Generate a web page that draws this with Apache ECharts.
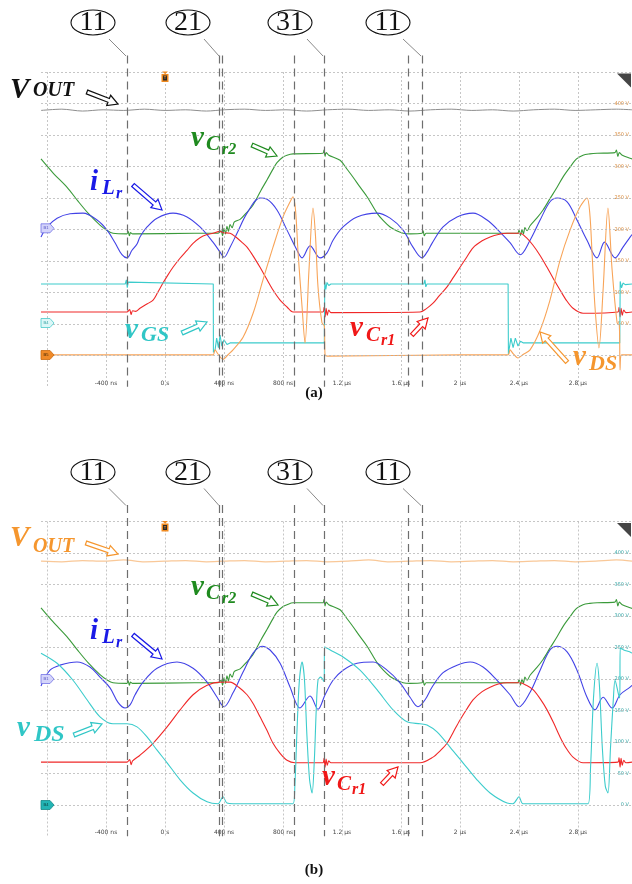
<!DOCTYPE html>
<html><head><meta charset="utf-8">
<script src="https://cdn.jsdelivr.net/npm/echarts@6/dist/echarts.min.js"></script>
<style>html,body{margin:0;padding:0;background:#fff}#c{width:632px;height:884px}</style>
</head><body><div id="c"></div><script>
// ---------- axis / tick data ----------
const tickValues = [-400, 0, 400, 800, 1200, 1600, 2000, 2400, 2800];
const tickLabels = ['-400 ns', '0 s', '400 ns', '800 ns', '1.2 µs', '1.6 µs', '2 µs', '2.4 µs', '2.8 µs'];
const gridTimes = [-800, -400, 0, 400, 800, 1200, 1600, 2000, 2400, 2800];
const gridVolts = [0, 50, 100, 150, 200, 250, 300, 350, 400, 450];
const voltLabelsA = [50, 100, 150, 200, 250, 300, 350, 400];
const voltLabelsB = [0, 50, 100, 150, 200, 250, 300, 350, 400];
const cursorTimes = [-258, 366, 386, 875, 1078, 1648, 1742];
const stateLabels = ['11', '21', '31', '11'];

// ---------- panel (a) traces: [time ns, value] ----------
const voutA = [[-841,389],[-700,391],[-560,388],[-420,390],[-280,389],[-140,391],[0,389],[140,390],[280,388],[400,390],[540,391],[680,389],[820,390],[960,388],[1100,390],[1240,391],[1380,389],[1520,390],[1660,388],[1800,390],[1940,391],[2080,389],[2220,390],[2360,388],[2500,390],[2640,391],[2780,389],[2920,390],[3060,391],[3166,390]];
const vCr2A = [[-841,312],[-760,290],[-664,267],[-590,245],[-522,226],[-441,207],[-390,198],[-353,194],[-258,193],[-250,197],[-242,190],[-234,195],[-220,193],[200,194],[360,194],[380,198],[390,190],[400,202],[410,193],[420,205],[430,197],[441,208],[455,203],[470,212],[509,216],[550,226],[597,239],[650,262],[692,279],[730,295],[759,306],[800,315],[827,318],[868,320],[1070,321],[1078,326],[1085,316],[1092,322],[1110,318],[1187,310],[1230,297],[1275,283],[1320,268],[1370,252],[1437,226],[1480,214],[1526,204],[1570,198],[1614,194],[1661,193],[1742,194],[1750,198],[1758,190],[1770,194],[2390,194],[2400,199],[2410,190],[2420,200],[2430,193],[2440,203],[2455,198],[2475,206],[2520,218],[2563,231],[2610,249],[2658,267],[2700,284],[2746,299],[2790,312],[2834,318],[2880,320],[2929,321],[3050,322],[3060,326],[3070,316],[3080,322],[3100,318],[3153,313],[3166,312]];
const vCr1A = [[-841,69],[-258,69],[-240,73],[-230,65],[-220,71],[-200,70],[-170,75],[-120,82],[-81,88],[-50,100],[-14,115],[20,128],[54,140],[100,154],[149,167],[190,178],[237,187],[285,192],[325,194],[373,197],[393,195],[441,194],[480,188],[520,180],[556,172],[600,157],[644,140],[690,121],[732,104],[780,88],[827,77],[868,69],[1070,69],[1078,76],[1085,61],[1092,75],[1100,64],[1110,72],[1125,68],[1729,69],[1770,74],[1817,83],[1860,95],[1912,109],[1955,124],[2000,140],[2045,156],[2088,171],[2150,182],[2204,188],[2260,192],[2319,194],[2407,194],[2450,187],[2495,175],[2545,158],[2590,140],[2635,121],[2678,104],[2720,88],[2766,75],[2834,67],[3070,69],[3078,76],[3085,61],[3092,75],[3100,64],[3110,72],[3125,68],[3166,69]];
const iLrA = [[-841,-1.2],[-800,0.4],[-732,1.8],[-644,2.5],[-556,2.6],[-461,1.5],[-393,-0.1],[-339,-2.1],[-292,-4.0],[-258,-4.5],[-224,-3.3],[-190,-2.3],[-170,-1.2],[-122,0.4],[-54,1.8],[54,2.6],[149,2.0],[237,0.4],[325,-2.0],[373,-3.6],[400,-4.4],[441,-2.8],[488,-0.6],[556,2.6],[644,5.0],[692,4.8],[759,3.1],[827,-0.1],[895,-3.3],[929,-4.5],[983,-2.6],[1051,-4.5],[1098,-3.7],[1139,-1.7],[1207,0.4],[1302,2.0],[1437,2.6],[1526,1.8],[1614,-0.1],[1681,-2.8],[1742,-4.5],[1776,-3.6],[1810,-2.2],[1885,0.4],[1980,2.0],[2088,2.6],[2183,1.5],[2271,-0.4],[2339,-2.1],[2407,-4.0],[2475,-1.7],[2543,1.5],[2610,4.4],[2658,5.0],[2726,4.4],[2793,1.5],[2861,-1.7],[2929,-4.5],[2980,-2.0],[3051,-4.5],[3105,-2.8],[3153,-1.2],[3166,-0.8]];
const vGSA = [[-841,12.7],[-270,12.7],[-262,14.0],[-256,11.5],[-250,13.3],[-240,12.7],[327,12.7],[328,-9.0],[339,-8.3],[350,-4.5],[362,-7.5],[373,-3.5],[385,-7.0],[400,-5.0],[420,-6.5],[441,-6.0],[1080,-6.0],[1083,13.5],[1090,11.0],[1098,13.2],[1110,12.2],[1125,12.7],[1755,12.7],[1762,14.0],[1768,11.8],[1776,12.7],[2326,12.7],[2328,-9.5],[2345,-4.5],[2360,-7.5],[2375,-4.5],[2393,-7.0],[2410,-5.5],[2430,-6.0],[3083,-6.0],[3086,13.5],[3095,11.5],[3105,13.0],[3120,12.5],[3166,12.7]];
const vDSA = [[-841,1],[0,1],[325,1],[339,9],[360,2],[393,-6],[430,2],[461,9],[529,29],[597,67],[664,120],[732,172],[800,220],[848,244],[868,252],[885,230],[902,163],[929,77],[949,20],[976,136],[1003,234],[1020,190],[1037,109],[1064,52],[1080,47],[1085,1],[1100,-1],[2000,1],[2326,1],[2339,9],[2360,3],[2393,-4],[2430,2],[2475,9],[2543,40],[2610,88],[2678,151],[2746,199],[2814,236],[2861,250],[2880,225],[2895,163],[2915,77],[2942,12],[2970,104],[3003,234],[3031,136],[3065,52],[3080,48],[3085,-23],[3095,1],[3166,1]];

// ---------- panel (b) traces ----------
const voutB = [[-841,387],[-700,386],[-560,388],[-420,387],[-280,389],[-140,386],[0,387],[140,388],[280,386],[400,387],[540,388],[680,386],[820,387],[960,388],[1100,386],[1240,387],[1380,389],[1520,386],[1660,387],[1800,388],[1940,386],[2080,387],[2220,388],[2360,386],[2500,387],[2640,388],[2780,386],[2920,387],[3060,389],[3166,387]];
const vCr2B = [[-841,313],[-760,291],[-664,267],[-590,245],[-522,226],[-441,207],[-390,198],[-353,194],[-258,193],[-250,197],[-242,190],[-234,195],[-220,193],[200,194],[360,194],[380,198],[390,190],[400,202],[410,193],[420,205],[430,197],[441,208],[455,203],[470,212],[509,216],[550,226],[597,239],[650,262],[692,279],[730,295],[759,306],[800,315],[827,318],[868,321],[1070,321],[1078,326],[1085,316],[1092,322],[1110,318],[1187,310],[1230,297],[1275,283],[1320,268],[1370,252],[1437,226],[1480,214],[1526,204],[1570,198],[1614,194],[1661,193],[1742,194],[1750,198],[1758,190],[1770,194],[2390,194],[2400,199],[2410,190],[2420,200],[2430,193],[2440,203],[2455,198],[2475,206],[2520,218],[2563,231],[2610,249],[2658,267],[2700,284],[2746,299],[2790,312],[2834,318],[2880,320],[2929,321],[3050,322],[3060,326],[3070,316],[3080,322],[3100,318],[3153,313],[3166,312]];
const vCr1B = [[-841,68],[-258,68],[-240,72],[-230,64],[-220,70],[-170,79],[-81,98],[14,124],[102,151],[190,175],[285,190],[373,195],[441,195],[500,187],[556,175],[600,160],[644,140],[690,119],[732,98],[780,82],[827,71],[881,67],[1070,67],[1078,74],[1085,60],[1092,73],[1100,63],[1110,70],[1125,67],[1729,67],[1817,76],[1865,86],[1912,98],[1955,116],[2000,135],[2045,152],[2088,167],[2150,180],[2204,187],[2260,192],[2319,194],[2407,194],[2450,190],[2495,183],[2545,168],[2590,151],[2635,130],[2678,108],[2720,90],[2766,76],[2834,67],[3070,68],[3078,75],[3085,60],[3092,74],[3100,63],[3110,71],[3125,67],[3166,68]];
const iLrB = [[-841,-1.1],[-780,1.4],[-712,2.2],[-597,2.7],[-509,1.9],[-441,0.3],[-373,-1.4],[-319,-3.7],[-271,-4.6],[-237,-4.1],[-203,-2.5],[-149,-0.5],[-54,1.7],[81,2.7],[190,1.7],[285,-0.5],[353,-2.9],[400,-4.4],[461,-2.2],[529,1.1],[597,4.1],[658,5.2],[712,4.6],[780,2.5],[848,-1.3],[915,-4.6],[983,-2.7],[1037,-4.8],[1085,-2.5],[1139,-0.2],[1207,1.4],[1302,2.5],[1410,2.7],[1505,1.4],[1593,-0.6],[1661,-2.9],[1715,-4.4],[1763,-3.3],[1810,-1.3],[1885,1.0],[1980,2.2],[2068,2.7],[2156,1.9],[2251,-0.2],[2339,-2.5],[2400,-4.4],[2475,-2.1],[2543,1.4],[2610,4.6],[2658,5.2],[2726,4.3],[2793,1.4],[2861,-2.9],[2915,-4.9],[2970,-2.9],[3031,-4.6],[3085,-2.5],[3153,-1.3],[3166,-1.0]];
const vDSB = [[-841,241],[-732,225],[-624,198],[-529,167],[-441,140],[-353,129],[-258,129],[-190,124],[-122,108],[-54,87],[14,67],[102,40],[190,19],[285,5],[359,2],[393,13],[420,3],[461,2],[868,2],[880,30],[895,120],[910,195],[929,227],[945,200],[962,110],[980,40],[997,19],[1012,70],[1025,150],[1037,198],[1055,203],[1078,196],[1082,251],[1120,246],[1207,235],[1322,214],[1437,183],[1546,151],[1641,132],[1729,129],[1776,127],[1844,116],[1932,92],[2020,67],[2115,40],[2204,19],[2319,3],[2359,2],[2400,13],[2427,2],[2868,2],[2885,60],[2905,170],[2929,225],[2945,190],[2965,90],[2985,30],[3003,19],[3020,90],[3040,170],[3051,198],[3075,175],[3083,170],[3086,249],[3110,246],[3153,243],[3166,241]];

// ---------- styling helpers ----------
const SERIF = '"Liberation Serif", "DejaVu Serif", serif';
const C = {green:'#3a9a3a', red:'#f02828', blue:'#4242e6', cyan:'#3ccccc', orange:'#f8a458', gray:'#8e8e8e', voutB:'#f9c898'};

function trace(data, xi, yi, color, smooth, width) {
  return {type:'line', data, xAxisIndex:xi, yAxisIndex:yi, showSymbol:false, symbol:'none',
    smooth: smooth, lineStyle:{color, width: width || 1.1}, itemStyle:{color}, z:3, silent:true};
}
function gridLines(xi, yi) {
  const d = [];
  gridVolts.forEach(v => d.push({yAxis:v, lineStyle:{type:[2,2], color:'#b8b8b8', width:0.8}}));
  gridTimes.forEach(t => d.push([{coord:[t,450], lineStyle:{type:[2,2], color:'#b8b8b8', width:0.8}}, {coord:[t,-49.5]}]));
  cursorTimes.forEach(t => d.push([{coord:[t,476], lineStyle:{type:[8,5], color:'#6e6e6e', width:1.2}}, {coord:[t,-49.5]}]));
  return {type:'line', data:[], xAxisIndex:xi, yAxisIndex:yi, z:1, silent:true,
    markLine:{silent:true, symbol:['none','none'], label:{show:false}, animation:false, data:d}};
}
function xAx(gi) {
  return {type:'value', gridIndex:gi, min:-841, max:3166, splitLine:{show:false}, axisLine:{show:false}, axisTick:{show:false},
    axisLabel:{customValues:tickValues, fontSize:6, color:'#444', margin:-7, fontFamily:'DejaVu Sans',
      formatter: v => { const i = tickValues.indexOf(v); return i >= 0 ? tickLabels[i] : ''; }}};
}
function yAx(gi, labels, color) {
  return {type:'value', gridIndex:gi, min:-50, max:500, interval:50, position:'right',
    splitLine:{show:false}, axisLine:{show:false}, axisTick:{show:false},
    axisLabel:{inside:true, margin:3, fontSize:5, color, fontFamily:'DejaVu Sans',
      formatter: v => labels.indexOf(v) >= 0 ? v + ' V' : ''}};
}

// ---------- annotation graphics ----------
const G = [];
function arrow(x1,y1,x2,y2,color){
  const dx=x2-x1, dy=y2-y1, len=Math.hypot(dx,dy), ux=dx/len, uy=dy/len, nx=-uy, ny=ux;
  const w=2.0, H=5.5, L=10, bx=x2-ux*L, by=y2-uy*L;
  G.push({type:'polygon', z:100, shape:{points:[[x1+nx*w,y1+ny*w],[bx+nx*w,by+ny*w],[bx+nx*H,by+ny*H],[x2,y2],[bx-nx*H,by-ny*H],[bx-nx*w,by-ny*w],[x1-nx*w,y1-ny*w]]},
    style:{fill:'#fff', stroke:color, lineWidth:1.2}});
}
function lab(parts, color){
  parts.forEach(p => G.push({type:'text', z:101, x:p[1], y:p[2]-0.34*p[3],
    style:{text:p[0], font:'italic bold '+p[3]+'px '+SERIF, fill:color, align:'left', verticalAlign:'middle'}}));
}
function circled(cx, cy, t){
  G.push({type:'ellipse', z:100, shape:{cx, cy, rx:22, ry:12.5}, style:{fill:'#fff', stroke:'#111', lineWidth:1.1}});
  G.push({type:'text', z:101, x:cx, y:cy+0.5, style:{text:t, font:'28px '+SERIF, fill:'#111', align:'center', verticalAlign:'middle'}});
}
function tag(y, txt, fill, stroke, tcol){
  G.push({type:'polygon', z:90, shape:{points:[[41,y-4.5],[50,y-4.5],[54,y],[50,y+4.5],[41,y+4.5]]}, style:{fill, stroke, lineWidth:0.8}});
  G.push({type:'text', z:91, x:46, y:y, style:{text:txt, font:'4px sans-serif', fill:tcol, align:'center', verticalAlign:'middle'}});
}
function panelDecor(dy){
  const cx = [93,188,290,388], lead = [[109,126],[204,219],[307,323],[403,421]];
  cx.forEach((x,i) => circled(x, 22.5+dy, stateLabels[i]));
  lead.forEach(l => G.push({type:'line', z:99, shape:{x1:l[0], y1:39+dy, x2:l[1], y2:56+dy}, style:{stroke:'#8a8a8a', lineWidth:1}}));
  // trigger marker
  G.push({type:'polygon', z:90, shape:{points:[[162,71.5+dy],[168,71.5+dy],[165,74+dy]]}, style:{fill:'#f08a20'}});
  G.push({type:'rect', z:90, shape:{x:161.5, y:74+dy, width:7, height:8}, style:{fill:'#f08a20'}});
  G.push({type:'rect', z:91, shape:{x:163, y:75.5+dy, width:4, height:5}, style:{fill:'#2a2a2a'}});
  G.push({type:'text', z:92, x:165, y:78+dy, style:{text:'T', font:'bold 4px sans-serif', fill:'#f08a20', align:'center', verticalAlign:'middle'}});
  // corner icon
  G.push({type:'polygon', z:90, shape:{points:[[617,73.5+dy],[631,73.5+dy],[631,87.5+dy]]}, style:{fill:'#464646'}});
}
panelDecor(0); panelDecor(449.5);
tag(228.3,'B1','#d4d4fa','#7474e6','#5050c0');
tag(323,'B4','#dcf7f7','#48caca','#30a0a0');
tag(355,'B5','#f08a28','#c86a10','#3a2000');
tag(679,'B1','#d4d4fa','#7474e6','#5050c0');
tag(805,'B4','#22b4b4','#148888','#0a3a3a');

// panel (a) labels
lab([['V',10,100,29],['OUT',33,98,20]], '#111');            arrow(87,92,118,104,'#111');
lab([['v',191,148,29],['C',206,152,21],['r2',222,155,16]], '#1f8a1f'); arrow(252,145,277,156,'#1f8a1f');
lab([['i',90,192,29],['L',102,196,21],['r',116,199,16]], '#1a1ae6');  arrow(133,185,162,210,'#1a1ae6');
lab([['v',125,340,29],['GS',141,343,22]], '#30c6c6');        arrow(182,333,207,322,'#30c6c6');
lab([['v',350,338,29],['C',366,343,21],['r1',381,346,16]], '#f01818'); arrow(412,335,428,318,'#f01818');
lab([['v',573,367,29],['DS',589,372,22]], '#f5962e');        arrow(567,362,540,332,'#f5962e');
// panel (b) labels
lab([['V',10,548,29],['OUT',33,554,20]], '#f5962e');         arrow(86,543,118,554,'#f5962e');
lab([['v',191,597,29],['C',206,601,21],['r2',222,604,16]], '#1f8a1f'); arrow(252,594,278,605,'#1f8a1f');
lab([['i',90,641,29],['L',102,645,21],['r',116,648,16]], '#1a1ae6');  arrow(133,635,162,659,'#1a1ae6');
lab([['v',17,738,29],['DS',34,743,24]], '#30c6c6');          arrow(74,735,102,724,'#30c6c6');
lab([['v',322,787,29],['C',337,792,21],['r1',352,795,16]], '#f01818'); arrow(382,784,398,767,'#f01818');
// captions
G.push({type:'text', z:101, x:314, y:393, style:{text:'(a)', font:'bold 15px '+SERIF, fill:'#111', align:'center', verticalAlign:'middle'}});
G.push({type:'text', z:101, x:314, y:870, style:{text:'(b)', font:'bold 15px '+SERIF, fill:'#111', align:'center', verticalAlign:'middle'}});

const chart = echarts.init(document.getElementById('c'), null, {renderer:'canvas'});
chart.setOption({
  animation:false,
  backgroundColor:'#fff',
  grid:[{left:41, right:0, top:40.5, height:346.5}, {left:41, right:0, top:490, height:346.5}],
  xAxis:[xAx(0), xAx(1)],
  yAxis:[yAx(0, voltLabelsA, '#d8893a'),
    {type:'value', gridIndex:0, min:-25, max:30, show:false},
    {type:'value', gridIndex:0, min:-20, max:90, show:false},
    yAx(1, voltLabelsB, '#35a6a6'),
    {type:'value', gridIndex:1, min:-25, max:30, show:false}],
  series:[
    gridLines(0,0), gridLines(1,3),
    trace(voutA,0,0,C.gray,0.3,1),
    trace(vCr2A,0,0,C.green,0.3),
    trace(iLrA,0,1,C.blue,0.35),
    trace(vCr1A,0,0,C.red,0.3),
    trace(vGSA,0,2,C.cyan,false),
    trace(vDSA,0,0,C.orange,0.3),
    trace(voutB,1,3,C.voutB,0.3,1.2),
    trace(vCr2B,1,3,C.green,0.3),
    trace(iLrB,1,4,C.blue,0.35),
    trace(vCr1B,1,3,C.red,0.3),
    trace(vDSB,1,3,C.cyan,0.3)
  ],
  graphic: G
});
</script></body></html>
